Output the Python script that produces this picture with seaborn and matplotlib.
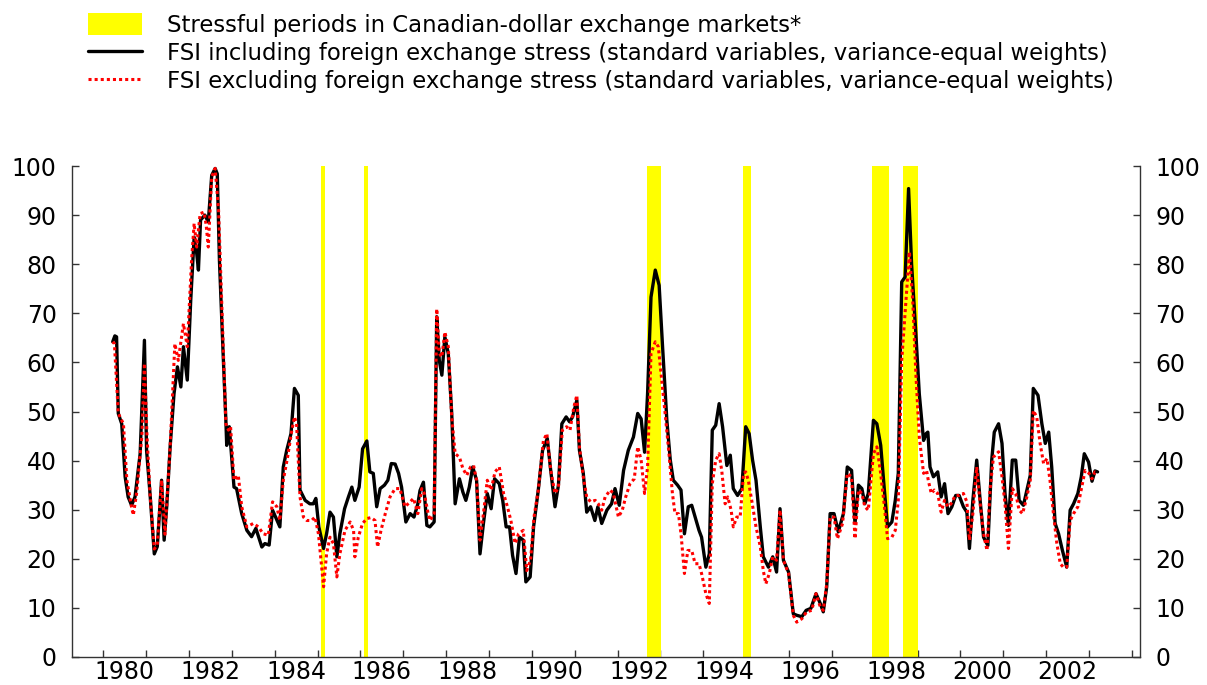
import matplotlib
matplotlib.use("Agg")
import matplotlib.pyplot as plt
import numpy as np
import pandas as pd
import seaborn as sns
from matplotlib.patches import Patch
from matplotlib.lines import Line2D

# ---------------- data ----------------
incl_dates = [
    1980.22, 1980.27, 1980.31, 1980.35, 1980.43, 1980.51, 1980.58, 1980.66, 1980.74, 1980.86,
    1980.96, 1981.01, 1981.09, 1981.19, 1981.26, 1981.36, 1981.42, 1981.48, 1981.56, 1981.65,
    1981.73, 1981.81, 1981.87, 1981.96, 1982.04, 1982.12, 1982.18, 1982.22, 1982.27, 1982.37,
    1982.45, 1982.53, 1982.61, 1982.66, 1982.71, 1982.79, 1982.86, 1982.88, 1982.94, 1982.97,
    1983.05, 1983.11, 1983.23, 1983.35, 1983.46, 1983.56, 1983.70, 1983.77, 1983.87, 1983.95,
    1984.02, 1984.12, 1984.20, 1984.28, 1984.38, 1984.46, 1984.55, 1984.59, 1984.71, 1984.82,
    1984.90, 1984.96, 1985.03, 1985.14, 1985.21, 1985.29, 1985.37, 1985.45, 1985.52, 1985.63,
    1985.72, 1985.80, 1985.87, 1985.97, 1986.05, 1986.15, 1986.22, 1986.30, 1986.38, 1986.46,
    1986.56, 1986.64, 1986.72, 1986.81, 1986.89, 1986.96, 1987.06, 1987.16, 1987.25, 1987.34,
    1987.39, 1987.47, 1987.55, 1987.62, 1987.72, 1987.78, 1987.84, 1987.90, 1987.97, 1988.05,
    1988.13, 1988.21, 1988.31, 1988.39, 1988.46, 1988.54, 1988.62, 1988.71, 1988.79, 1988.87,
    1988.96, 1989.05, 1989.13, 1989.24, 1989.32, 1989.40, 1989.48, 1989.55, 1989.63, 1989.71,
    1989.80, 1989.86, 1989.96, 1990.04, 1990.15, 1990.25, 1990.36, 1990.44, 1990.54, 1990.62,
    1990.70, 1990.80, 1990.88, 1990.95, 1991.05, 1991.11, 1991.20, 1991.28, 1991.37, 1991.47,
    1991.54, 1991.63, 1991.75, 1991.86, 1991.94, 1992.04, 1992.14, 1992.25, 1992.37, 1992.47,
    1992.55, 1992.63, 1992.70, 1992.78, 1992.88, 1992.97, 1993.05, 1993.15, 1993.23, 1993.30,
    1993.40, 1993.48, 1993.56, 1993.65, 1993.73, 1993.81, 1993.90, 1993.96, 1994.06, 1994.14,
    1994.21, 1994.29, 1994.37, 1994.45, 1994.55, 1994.63, 1994.70, 1994.80, 1994.90, 1994.99,
    1995.07, 1995.15, 1995.23, 1995.33, 1995.40, 1995.52, 1995.62, 1995.71, 1995.79, 1995.87,
    1995.99, 1996.10, 1996.18, 1996.30, 1996.40, 1996.51, 1996.63, 1996.73, 1996.80, 1996.88,
    1996.96, 1997.05, 1997.15, 1997.27, 1997.36, 1997.46, 1997.54, 1997.62, 1997.70, 1997.77,
    1997.85, 1997.97, 1998.05, 1998.14, 1998.22, 1998.30, 1998.40, 1998.48, 1998.55, 1998.63,
    1998.71, 1998.79, 1998.86, 1998.96, 1999.04, 1999.14, 1999.20, 1999.24, 1999.29, 1999.37,
    1999.47, 1999.55, 1999.63, 1999.71, 1999.80, 1999.89, 1999.97, 2000.07, 2000.15, 2000.21,
    2000.29, 2000.38, 2000.46, 2000.54, 2000.64, 2000.73, 2000.79, 2000.89, 2000.97, 2001.04,
    2001.12, 2001.21, 2001.29, 2001.37, 2001.47, 2001.55, 2001.63, 2001.70, 2001.81, 2001.90,
    2001.98, 2002.06, 2002.13, 2002.21, 2002.29, 2002.38, 2002.48, 2002.56, 2002.64, 2002.74,
    2002.82, 2002.89, 2002.99, 2003.07, 2003.14, 2003.20,
]
incl_values = [
    64.2, 65.4, 65.2, 49.6, 47.5, 36.7, 32.6, 30.9, 32.6, 41.4,
    64.5, 42.1, 33.3, 21.0, 22.5, 36.0, 23.8, 30.6, 42.8, 53.6,
    59.1, 55.0, 63.2, 56.4, 72.6, 85.5, 82.2, 78.8, 89.0, 90.0,
    88.6, 98.1, 99.5, 98.4, 80.8, 63.1, 48.2, 43.1, 46.9, 43.5,
    34.6, 34.3, 29.2, 25.8, 24.5, 26.2, 22.4, 23.1, 22.8, 29.9,
    28.5, 26.5, 38.7, 42.1, 45.5, 54.7, 53.3, 34.0, 31.9, 31.2,
    31.2, 32.3, 26.5, 22.1, 25.1, 29.5, 28.5, 20.4, 25.1, 30.2,
    32.6, 34.6, 31.9, 34.6, 42.4, 44.0, 37.7, 37.4, 30.6, 34.3,
    35.0, 36.0, 39.4, 39.3, 37.4, 34.6, 27.5, 29.2, 28.5, 31.2,
    33.9, 35.6, 26.8, 26.5, 27.5, 69.3, 60.4, 57.4, 65.2, 61.8,
    49.6, 31.2, 36.3, 33.6, 31.9, 34.6, 38.7, 36.0, 21.0, 27.2,
    33.3, 30.2, 36.3, 35.3, 31.9, 26.5, 26.5, 20.7, 17.0, 24.4,
    23.8, 15.3, 16.3, 26.5, 34.0, 42.1, 44.5, 38.0, 30.6, 35.0,
    47.5, 48.9, 47.9, 48.9, 52.3, 42.1, 37.4, 29.5, 30.6, 27.8,
    30.6, 27.2, 29.9, 31.2, 34.3, 30.9, 38.0, 42.1, 44.8, 49.6,
    48.5, 41.7, 53.6, 73.3, 78.8, 75.7, 63.2, 48.2, 40.1, 36.0,
    35.0, 34.0, 25.1, 30.6, 30.9, 28.5, 25.8, 24.4, 18.3, 21.0,
    46.2, 47.2, 51.6, 46.9, 39.0, 41.1, 34.3, 32.9, 34.3, 46.9,
    45.5, 40.1, 36.0, 26.5, 20.4, 18.3, 20.4, 17.3, 30.2, 19.7,
    17.3, 8.8, 8.5, 8.2, 9.5, 9.9, 12.9, 10.9, 9.2, 14.3,
    29.2, 29.2, 25.5, 29.2, 38.7, 38.0, 27.2, 35.0, 34.3, 31.2,
    33.3, 48.2, 47.5, 43.1, 34.6, 26.5, 27.5, 31.9, 37.4, 76.4,
    77.4, 95.4, 80.1, 65.9, 53.6, 44.1, 45.5, 45.8, 38.7, 36.7,
    37.7, 32.6, 35.3, 29.2, 30.6, 32.9, 32.9, 30.6, 29.5, 22.1,
    31.9, 40.1, 31.9, 24.4, 22.7, 40.1, 45.8, 47.5, 43.5, 33.3,
    26.8, 40.1, 40.1, 31.9, 30.9, 34.0, 37.0, 54.7, 53.3, 47.5,
    43.5, 45.8, 38.7, 27.2, 25.1, 21.7, 18.3, 29.9, 31.2, 33.3,
    36.7, 41.4, 39.7, 35.8, 37.9, 37.7,
]

excl_dates = [
    1980.22, 1980.26, 1980.35, 1980.47, 1980.55, 1980.66, 1980.70, 1980.78, 1980.90, 1980.96,
    1981.02, 1981.09, 1981.19, 1981.26, 1981.36, 1981.44, 1981.56, 1981.67, 1981.75, 1981.87,
    1981.96, 1982.06, 1982.12, 1982.18, 1982.26, 1982.35, 1982.40, 1982.45, 1982.53, 1982.61,
    1982.69, 1982.73, 1982.86, 1982.92, 1982.97, 1983.05, 1983.15, 1983.23, 1983.35, 1983.50,
    1983.62, 1983.73, 1983.85, 1983.95, 1984.05, 1984.12, 1984.20, 1984.30, 1984.40, 1984.46,
    1984.51, 1984.59, 1984.67, 1984.75, 1984.86, 1984.94, 1985.02, 1985.14, 1985.21, 1985.29,
    1985.37, 1985.45, 1985.52, 1985.64, 1985.76, 1985.84, 1985.87, 1985.95, 1986.05, 1986.15,
    1986.25, 1986.34, 1986.40, 1986.48, 1986.58, 1986.69, 1986.81, 1986.92, 1987.04, 1987.16,
    1987.24, 1987.34, 1987.43, 1987.49, 1987.58, 1987.62, 1987.72, 1987.78, 1987.84, 1987.90,
    1987.97, 1988.05, 1988.13, 1988.21, 1988.31, 1988.39, 1988.48, 1988.57, 1988.64, 1988.71,
    1988.79, 1988.87, 1988.96, 1989.05, 1989.14, 1989.24, 1989.34, 1989.43, 1989.51, 1989.61,
    1989.69, 1989.80, 1989.88, 1989.97, 1990.05, 1990.15, 1990.27, 1990.35, 1990.44, 1990.54,
    1990.62, 1990.71, 1990.81, 1990.89, 1990.98, 1991.05, 1991.11, 1991.20, 1991.28, 1991.37,
    1991.48, 1991.55, 1991.63, 1991.71, 1991.83, 1991.90, 1992.02, 1992.11, 1992.19, 1992.29,
    1992.39, 1992.47, 1992.55, 1992.63, 1992.70, 1992.78, 1992.88, 1992.95, 1993.03, 1993.11,
    1993.20, 1993.28, 1993.34, 1993.42, 1993.48, 1993.56, 1993.64, 1993.73, 1993.81, 1993.90,
    1993.96, 1994.06, 1994.14, 1994.21, 1994.29, 1994.37, 1994.43, 1994.51, 1994.57, 1994.65,
    1994.70, 1994.78, 1994.86, 1994.94, 1994.99, 1995.05, 1995.13, 1995.23, 1995.33, 1995.40,
    1995.46, 1995.54, 1995.62, 1995.71, 1995.79, 1995.87, 1995.99, 1996.10, 1996.18, 1996.30,
    1996.41, 1996.53, 1996.63, 1996.73, 1996.80, 1996.88, 1996.96, 1997.05, 1997.13, 1997.25,
    1997.36, 1997.46, 1997.54, 1997.62, 1997.70, 1997.77, 1997.85, 1997.97, 1998.05, 1998.13,
    1998.22, 1998.30, 1998.40, 1998.48, 1998.55, 1998.63, 1998.73, 1998.81, 1998.89, 1998.96,
    1999.04, 1999.14, 1999.21, 1999.25, 1999.32, 1999.39, 1999.47, 1999.55, 1999.63, 1999.71,
    1999.78, 1999.88, 1999.97, 2000.07, 2000.15, 2000.21, 2000.29, 2000.38, 2000.46, 2000.54,
    2000.62, 2000.69, 2000.77, 2000.89, 2000.97, 2001.04, 2001.12, 2001.21, 2001.29, 2001.37,
    2001.45, 2001.55, 2001.63, 2001.70, 2001.78, 2001.86, 2001.94, 2002.02, 2002.09, 2002.17,
    2002.25, 2002.33, 2002.40, 2002.48, 2002.56, 2002.64, 2002.74, 2002.83, 2002.91, 2003.00,
    2003.07, 2003.14, 2003.20,
]
excl_values = [
    64.2, 63.8, 49.6, 47.5, 36.0, 30.5, 28.9, 33.5, 45.0, 59.8,
    45.0, 33.3, 22.0, 22.8, 36.0, 25.0, 42.8, 63.8, 60.4, 67.9,
    63.2, 80.8, 88.3, 83.5, 90.3, 90.6, 88.0, 83.5, 97.8, 99.5,
    91.0, 80.8, 47.5, 46.2, 46.9, 36.0, 37.0, 30.6, 26.5, 27.2,
    26.5, 25.1, 24.8, 31.6, 30.6, 27.8, 36.0, 40.7, 46.2, 48.9,
    47.5, 32.6, 28.5, 27.8, 27.8, 28.5, 25.1, 14.3, 21.0, 24.4,
    23.1, 16.3, 21.0, 25.8, 27.5, 25.8, 20.4, 24.4, 27.2, 28.2,
    28.4, 27.8, 22.4, 25.8, 29.2, 32.6, 34.3, 34.3, 30.6, 31.6,
    32.3, 29.2, 34.3, 33.3, 29.2, 27.8, 29.2, 70.9, 61.8, 61.1,
    66.2, 63.2, 48.9, 41.4, 40.7, 38.4, 37.0, 38.7, 39.0, 36.0,
    23.8, 29.2, 36.0, 34.0, 37.7, 38.7, 33.3, 30.6, 27.8, 23.1,
    25.1, 25.8, 17.6, 19.7, 28.5, 34.0, 44.1, 45.5, 38.0, 33.3,
    34.6, 46.2, 46.9, 46.2, 50.9, 53.3, 42.8, 36.7, 32.6, 31.6,
    31.9, 31.2, 29.9, 32.6, 34.0, 33.3, 28.5, 29.9, 32.6, 35.3,
    36.3, 42.8, 40.1, 33.3, 38.7, 61.8, 64.2, 63.2, 56.4, 49.6,
    41.4, 33.3, 29.2, 29.2, 25.1, 17.0, 21.7, 21.7, 19.0, 19.0,
    17.0, 12.9, 10.9, 35.3, 40.1, 41.4, 38.0, 31.2, 32.6, 29.9,
    26.5, 28.5, 28.5, 37.4, 37.7, 36.0, 31.9, 26.5, 22.5, 17.6,
    14.9, 17.0, 20.4, 19.7, 29.9, 19.7, 17.0, 8.5, 7.1, 7.8,
    9.2, 9.5, 12.9, 10.2, 9.5, 14.9, 28.5, 28.5, 24.1, 27.2,
    37.4, 36.7, 24.1, 34.0, 33.3, 30.6, 29.9, 41.4, 42.8, 38.0,
    31.2, 24.1, 24.4, 25.8, 31.9, 60.4, 72.6, 82.5, 72.0, 57.7,
    44.8, 37.4, 38.0, 36.0, 33.3, 34.0, 33.3, 29.5, 31.9, 30.6,
    31.2, 32.9, 32.9, 33.3, 31.6, 23.8, 29.2, 38.7, 31.2, 25.1,
    21.7, 34.0, 40.7, 41.8, 36.7, 31.2, 22.1, 34.3, 33.3, 29.9,
    29.2, 32.6, 36.0, 50.2, 48.9, 43.5, 39.4, 40.4, 36.0, 29.2,
    23.1, 19.0, 18.3, 18.3, 27.8, 29.2, 30.6, 34.6, 38.0, 37.4,
    36.3, 37.7, 37.5,
]

band_starts = [1985.08, 1986.09, 1992.68, 1994.93, 1997.93, 1998.67]
band_ends = [1985.18, 1986.18, 1993.01, 1995.11, 1998.34, 1999.01]

year_ticks = list(range(1980, 2005))
label_years = list(range(1980, 2003, 2))
y_ticks = list(range(0, 101, 10))

legend_labels = [
    "Stressful periods in Canadian-dollar exchange markets*",
    "FSI including foreign exchange stress (standard variables, variance-equal weights)",
    "FSI excluding foreign exchange stress (standard variables, variance-equal weights)",
]

# ---------------- style ----------------
sns.set_theme(style="ticks")
plt.rcParams["font.family"] = ["DejaVu Sans"]
plt.rcParams["text.color"] = "black"
plt.rcParams["xtick.color"] = "#333333"
plt.rcParams["ytick.color"] = "#333333"
plt.rcParams["xtick.labelcolor"] = "black"
plt.rcParams["ytick.labelcolor"] = "black"

W, H = 1207, 685
fig = plt.figure(figsize=(W / 100, H / 100), dpi=100)
L, R, T, B = 72, 1140, 166, 657
ax = fig.add_axes([L / W, 1 - B / H, (R - L) / W, (B - T) / H])

for s, e in zip(band_starts, band_ends):
    ax.axvspan(s, e, color="#FFFF00", lw=0, zorder=1)

df_in = pd.DataFrame({"date": incl_dates, "fsi": incl_values})
df_ex = pd.DataFrame({"date": excl_dates, "fsi": excl_values})

sns.lineplot(data=df_in, x="date", y="fsi", ax=ax, color="black", lw=2.4,
             estimator=None, sort=False, zorder=3)
sns.lineplot(data=df_ex, x="date", y="fsi", ax=ax, color="#FF0000", lw=2.2,
             linestyle=(0, (1.0, 1.0)), estimator=None, sort=False, zorder=4)

ax.set_xlim(1979.27, 2004.19)
ax.set_ylim(0, 100)
ax.set_xlabel("")
ax.set_ylabel("")

ax.set_yticks(y_ticks)
ax.set_yticklabels([str(v) for v in y_ticks])
ax.tick_params(axis="y", which="major", left=True, right=True, labelleft=True,
               labelright=True, direction="in", length=5, width=1, labelsize=17, pad=11)

ax.set_xticks(year_ticks)
ax.set_xticklabels([])
ax.set_xticks([y + 0.5 for y in label_years], minor=True)
ax.set_xticklabels([str(y) for y in label_years], minor=True)
ax.tick_params(axis="x", which="major", bottom=True, direction="in", length=5, width=1)
ax.tick_params(axis="x", which="minor", bottom=True, length=0, labelsize=17, pad=2)

for side in ["left", "right", "bottom"]:
    ax.spines[side].set_visible(True)
    ax.spines[side].set_color("#333333")
    ax.spines[side].set_linewidth(1.0)
ax.spines["top"].set_visible(False)
ax.grid(False)

handles = [
    Patch(facecolor="#FFFF00", edgecolor="none"),
    Line2D([], [], color="black", lw=2.4),
    Line2D([], [], color="#FF0000", lw=2.2, linestyle=(0, (1.0, 1.0))),
]
fig.legend(handles, legend_labels, loc="upper left", bbox_to_anchor=(88 / W, 1 - 13 / H),
           frameon=False, fontsize=16.4, handlelength=2.37, handleheight=1.1,
           handletextpad=1.1, labelspacing=0.2, borderaxespad=0, borderpad=0)

fig.savefig("out.png", dpi=100)
